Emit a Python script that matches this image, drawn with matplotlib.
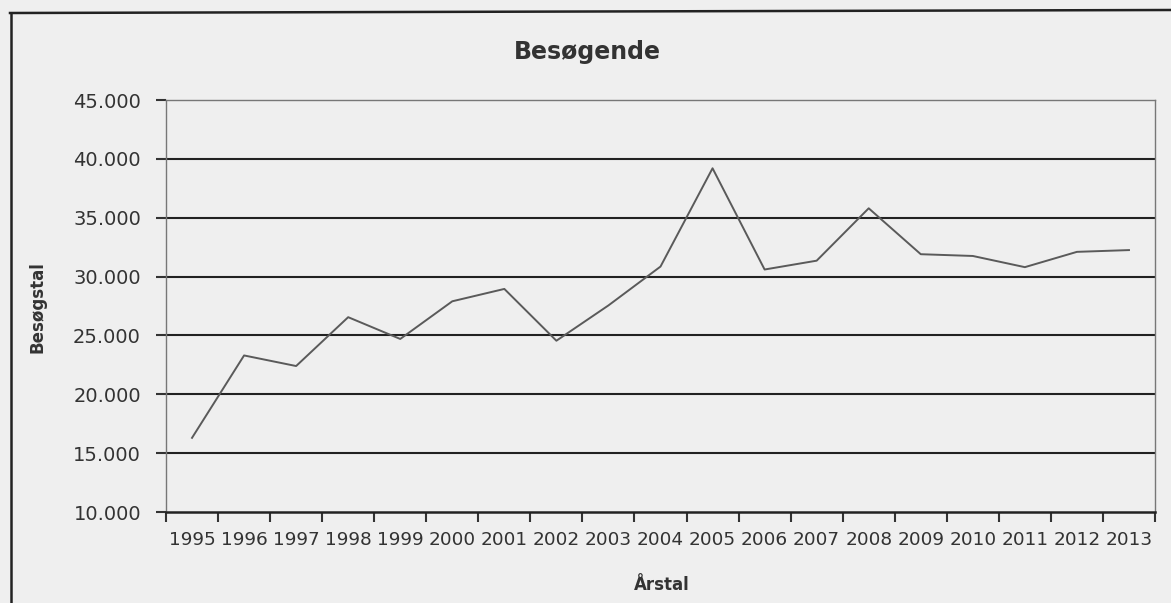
import matplotlib
matplotlib.use("Agg")
import matplotlib.pyplot as plt
from matplotlib.lines import Line2D
from matplotlib.ticker import FuncFormatter, FixedLocator

years = ["1995", "1996", "1997", "1998", "1999", "2000", "2001", "2002", "2003", "2004",
         "2005", "2006", "2007", "2008", "2009", "2010", "2011", "2012", "2013"]
visitors = [16300, 23300, 22400, 26550, 24700, 27900, 28950, 24550, 27550, 30850,
            39200, 30600, 31350, 35800, 31900, 31750, 30800, 32100, 32250]
y_ticks = [10000, 15000, 20000, 25000, 30000, 35000, 40000, 45000]

W, H = 1171, 603
bg = "#efefef"
fig = plt.figure(figsize=(W / 100, H / 100), dpi=100, facecolor=bg)
ax = fig.add_axes([166 / W, 1 - 512 / H, (1155 - 166) / W, (512 - 100) / H])
ax.set_facecolor(bg)

x = list(range(len(years)))
ax.plot(x, visitors, color="#5a5a5a", lw=1.4, zorder=3)

ax.set_ylim(10000, 45000)
ax.set_xlim(-0.5, len(years) - 0.5)

ax.yaxis.set_major_locator(FixedLocator(y_ticks))
ax.yaxis.set_major_formatter(FuncFormatter(lambda v, p: f"{int(v):,}".replace(",", ".")))
for v in y_ticks[1:-1]:
    ax.axhline(v, color="#222222", lw=1.5, zorder=1)

ax.set_xticks(x)
ax.set_xticklabels(years)
ax.set_xticks([i - 0.5 for i in range(len(years) + 1)], minor=True)
ax.tick_params(axis="x", which="major", length=0, pad=14, labelsize=13.3, labelcolor="#333333")
ax.tick_params(axis="x", which="minor", length=7, width=1.5, color="#333333", direction="out")
ax.tick_params(axis="y", which="major", length=7, width=1.5, color="#333333", pad=11,
               labelsize=14, labelcolor="#333333")

for s in ["left", "right", "top"]:
    ax.spines[s].set_color("#777777")
    ax.spines[s].set_linewidth(1.0)
ax.spines["bottom"].set_color("#222222")
ax.spines["bottom"].set_linewidth(1.8)

fig.text(587 / W, 1 - 52 / H, "Besøgende", ha="center", va="center",
         fontsize=17, fontweight="bold", color="#333333")
fig.text(662 / W, 1 - 585 / H, "Årstal", ha="center", va="center",
         fontsize=12, fontweight="bold", color="#333333")
fig.text(38 / W, 1 - 307 / H, "Besøgstal", ha="center", va="center", rotation=90,
         fontsize=12, fontweight="bold", color="#333333")

# outer chart frame
fig.add_artist(Line2D([11 / W, 11 / W], [1 - 13 / H, 0], color="#222222", lw=1.8))
fig.add_artist(Line2D([10 / W, 1], [1 - 13 / H, 1 - 10 / H], color="#222222", lw=1.8))

fig.savefig("out.png", dpi=100, facecolor=bg)
